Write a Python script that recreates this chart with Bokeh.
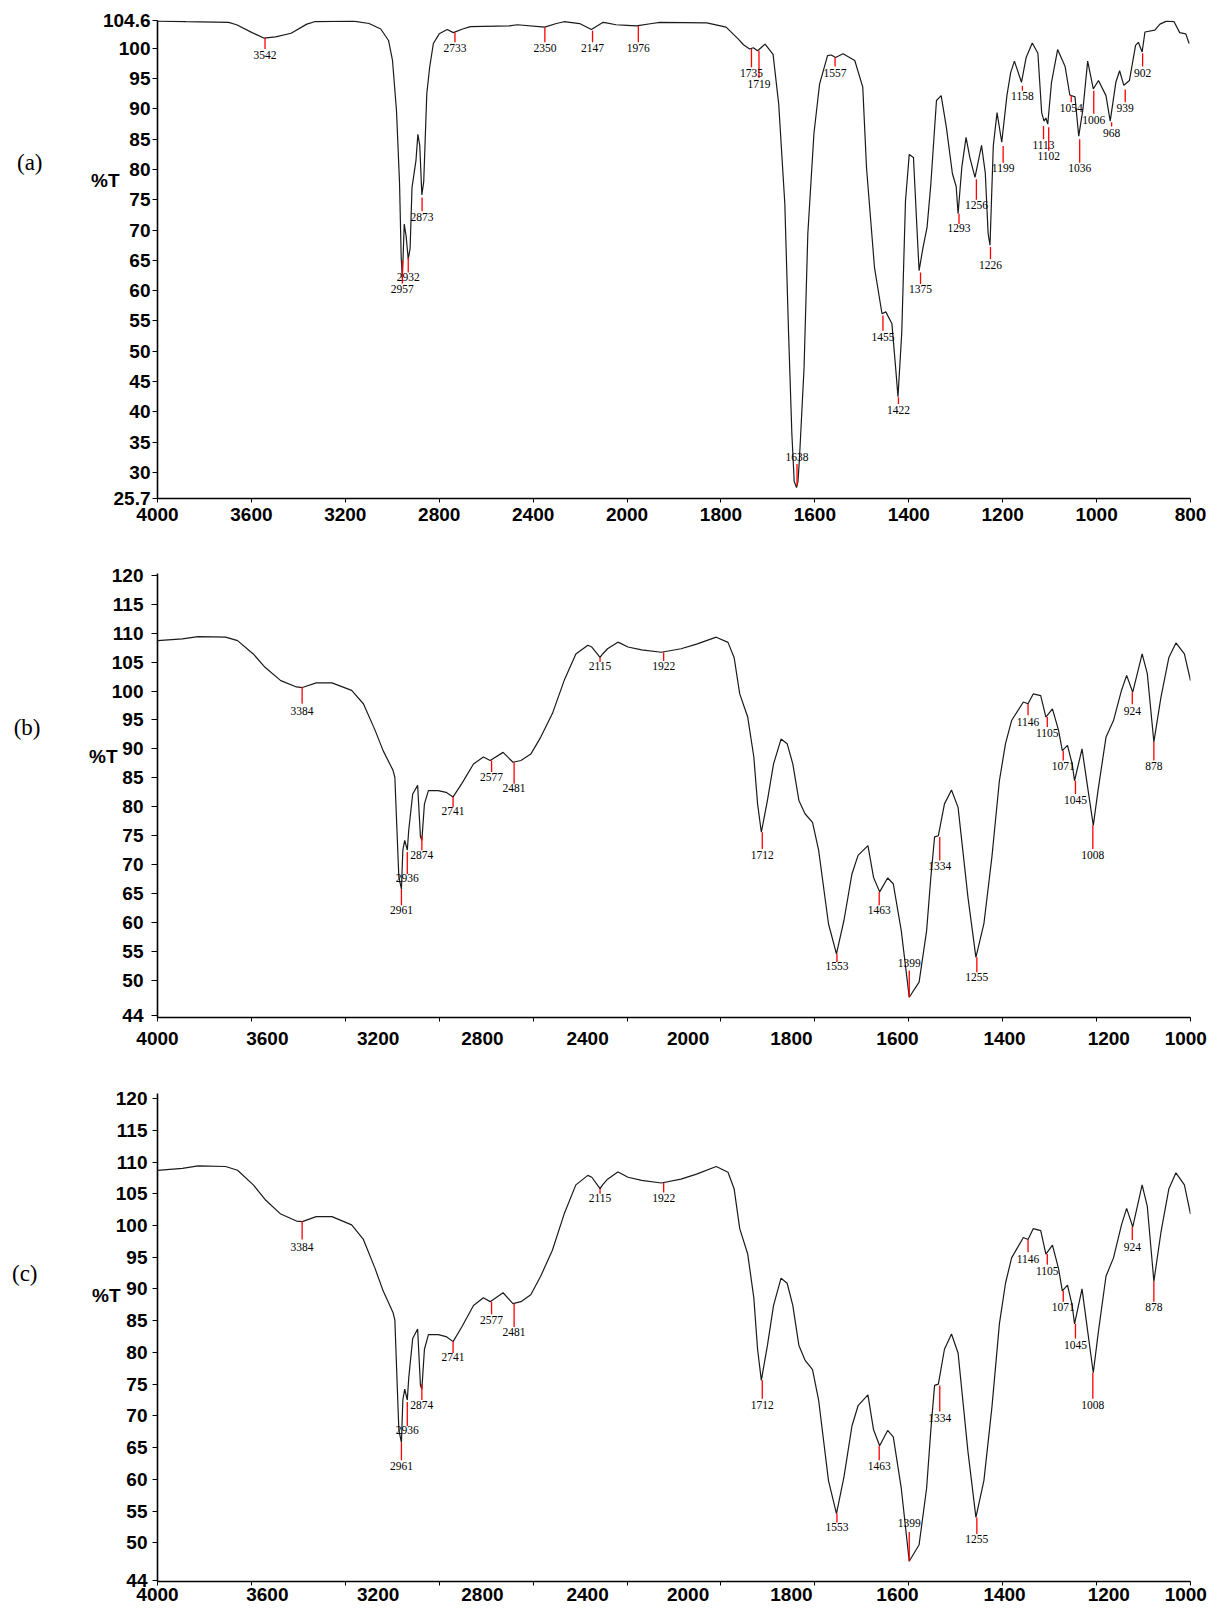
import numpy as np
from bokeh.plotting import figure
from bokeh.models import FixedTicker, LinearAxis, Range1d
from bokeh.layouts import column
from bokeh.embed import file_html
from bokeh.resources import INLINE
from bokeh.core.properties import value

# ---------------- data ----------------
# spectrum (a): wavenumber (cm-1) and %T
WN_A = [4000, 3879, 3697, 3663, 3597, 3547, 3497, 3431, 3364, 3331, 3165, 3099, 3049, 3016,
        2999, 2982, 2969, 2962, 2957, 2949, 2941, 2932, 2924, 2916, 2899, 2891, 2883, 2874,
        2866, 2853, 2841, 2825, 2800, 2766, 2740, 2700, 2667, 2501, 2468, 2351, 2301, 2268,
        2202, 2152, 2102, 2088, 2047, 2000, 1980, 1947, 1930, 1830, 1789, 1764, 1752, 1739,
        1731, 1722, 1706, 1689, 1677, 1664, 1656, 1649, 1644, 1639, 1636, 1633, 1623, 1615,
        1602, 1590, 1573, 1565, 1556, 1540, 1515, 1498, 1490, 1473, 1457, 1449, 1436, 1428,
        1423, 1415, 1407, 1399, 1390, 1382, 1378, 1370, 1361, 1353, 1341, 1331, 1320, 1307,
        1299, 1295, 1287, 1278, 1270, 1259, 1245, 1237, 1231, 1227, 1220, 1212, 1202, 1191,
        1183, 1175, 1160, 1150, 1137, 1125, 1117, 1112, 1108, 1104, 1096, 1083, 1067, 1057,
        1046, 1038, 1029, 1019, 1007, 996, 980, 971, 959, 951, 942, 930, 917, 911, 903, 897,
        876, 865, 851, 835, 823, 810, 803]
T_A = [104.5, 104.4, 104.3, 103.9, 102.6, 101.7, 101.9, 102.5, 104.0, 104.4, 104.5, 104.1, 103.2, 101.3,
       98.0, 89.7, 77.7, 65.5, 62.0, 71.0, 69.0, 65.2, 67.0, 77.0, 81.5, 85.8, 84.0, 75.8,
       78.0, 92.5, 96.8, 100.8, 102.4, 103.1, 102.6, 103.2, 103.6, 103.7, 103.9, 103.5, 104.1, 104.4,
       104.1, 103.1, 104.3, 104.2, 103.9, 103.8, 103.7, 104.1, 104.3, 104.2, 103.5, 101.6, 100.6, 99.9,
       100.1, 99.6, 100.7, 99.0, 90.8, 74.4, 53.0, 36.4, 28.5, 27.5, 28.5, 32.0, 47.3, 69.4,
       85.9, 94.1, 98.8, 98.9, 98.5, 99.1, 98.0, 93.6, 80.3, 63.8, 56.2, 56.5, 54.6, 47.3,
       42.5, 53.0, 74.8, 82.5, 82.0, 69.4, 63.3, 67.0, 70.5, 77.6, 91.4, 92.2, 87.0, 79.3,
       77.2, 72.7, 80.4, 85.3, 82.0, 78.7, 84.0, 79.4, 69.4, 67.5, 83.9, 89.4, 84.5, 92.2,
       96.0, 97.9, 94.4, 98.5, 100.9, 99.2, 89.4, 88.0, 88.5, 87.5, 94.4, 99.8, 97.0, 92.3,
       92.0, 85.5, 90.0, 97.9, 93.3, 94.7, 92.2, 88.0, 94.4, 96.3, 93.9, 94.7, 100.5, 101.0, 99.4, 102.7,
       103.0, 104.0, 104.5, 104.4, 102.6, 102.4, 100.8]

# peak annotations (a): wavenumber, red line top / bottom (%T), label centre (%T)
PEAK_A = [3542, 2957, 2932, 2873, 2733, 2350, 2147, 1976, 1735, 1719, 1638, 1557, 1455, 1422,
          1375, 1293, 1256, 1226, 1199, 1158, 1113, 1102, 1054, 1036, 1006, 968, 939, 902]
PEAK_A_TOP = [101.7, 65.0, 65.5, 75.4, 102.6, 103.5, 102.9, 103.7, 99.9, 99.6, 31.4, 98.5, 55.9, 42.4,
              63.0, 72.7, 78.4, 67.2, 83.9, 93.8, 87.2, 87.0, 92.2, 85.0, 93.0, 87.8, 93.2, 99.2]
PEAK_A_BOT = [99.9, 61.2, 63.0, 73.1, 101.0, 101.0, 101.0, 101.0, 96.9, 95.1, 27.8, 97.0, 53.4, 41.3,
              61.1, 71.0, 75.0, 65.2, 81.1, 93.0, 85.0, 83.1, 91.1, 81.1, 89.2, 87.1, 91.1, 97.0]
PEAK_A_LAB = [98.9, 60.2, 62.3, 72.1, 100.1, 100.1, 100.1, 100.1, 96.0, 94.2, 32.6, 96.0, 52.3, 40.3,
              60.2, 70.3, 74.2, 64.3, 80.3, 92.2, 84.1, 82.3, 90.2, 80.3, 88.2, 86.1, 90.2, 96.0]

# spectrum (b) = (c)
WN_B = [4000, 3894, 3827, 3710, 3659, 3592, 3542, 3475, 3408, 3383, 3324, 3257, 3173, 3123,
        3073, 3039, 2997, 2989, 2980, 2972, 2961, 2955, 2947, 2936, 2930, 2913, 2892, 2880,
        2874, 2863, 2846, 2804, 2771, 2741, 2704, 2654, 2612, 2583, 2528, 2486, 2452, 2410,
        2368, 2318, 2268, 2218, 2167, 2150, 2115, 2104, 2083, 2041, 2036, 1998, 1969, 1927,
        1885, 1852, 1810, 1785, 1772, 1760, 1743, 1730, 1722, 1714, 1701, 1688, 1672, 1659,
        1647, 1634, 1621, 1605, 1592, 1571, 1554, 1538, 1521, 1508, 1487, 1475, 1462, 1445,
        1433, 1416, 1399, 1378, 1362, 1353, 1345, 1337, 1324, 1309, 1295, 1274, 1257, 1240,
        1223, 1207, 1194, 1181, 1156, 1146, 1135, 1119, 1108, 1094, 1081, 1073, 1062, 1052,
        1047, 1031, 1018, 1007, 997, 980, 964, 947, 936, 923, 903, 892, 878, 863, 846, 831,
        813, 800]
T_B = [108.7, 109.0, 109.4, 109.3, 108.7, 106.4, 104.1, 101.8, 100.7, 100.6, 101.4, 101.4, 100.1, 97.8,
       93.2, 89.7, 86.3, 85.1, 75.9, 67.8, 65.8, 72.5, 74.2, 72.5, 75.9, 82.2, 83.7, 74.8,
       74.2, 80.5, 82.8, 82.8, 82.5, 81.7, 84.0, 87.4, 88.6, 88.0, 89.4, 87.7, 88.0, 89.1,
       92.0, 96.1, 101.8, 106.4, 107.9, 107.6, 105.8, 106.4, 107.3, 108.4, 108.4, 107.6, 107.1, 106.7,
       107.3, 108.1, 109.3, 108.4, 105.8, 99.5, 95.5, 88.6, 80.5, 75.6, 81.1, 87.4, 91.7, 90.9,
       87.4, 81.1, 78.8, 77.3, 72.5, 59.8, 54.6, 60.4, 68.4, 71.6, 73.3, 67.8, 65.3, 67.7,
       66.7, 58.6, 47.1, 49.7, 58.6, 67.8, 74.8, 75.0, 80.5, 82.9, 79.9, 64.4, 54.0, 59.8,
       71.3, 84.5, 90.9, 94.9, 98.1, 97.8, 99.5, 99.2, 95.5, 96.9, 93.2, 89.7, 90.6, 87.4,
       84.5, 90.0, 82.8, 76.8, 82.8, 92.0, 94.9, 100.1, 102.7, 99.8, 106.4, 103.0, 91.2, 98.9, 105.8, 108.3,
       106.4, 101.8]

PEAK_B = [3384, 2961, 2936, 2874, 2741, 2577, 2481, 2115, 1922, 1712, 1553, 1463, 1399, 1334,
          1255, 1146, 1105, 1071, 1045, 1008, 924, 878]
PEAK_B_TOP = [100.7, 65.8, 72.2, 75.0, 81.7, 88.0, 87.7, 105.8, 106.7, 75.6, 54.6, 65.3, 51.7, 74.8,
              54.0, 97.8, 95.5, 89.7, 84.5, 76.8, 99.8, 91.2]
PEAK_B_BOT = [97.8, 63.0, 68.4, 72.5, 79.9, 86.0, 84.0, 105.0, 105.2, 72.7, 53.2, 63.0, 47.1, 70.7,
              51.4, 95.8, 93.8, 88.0, 82.2, 72.7, 97.7, 88.0]
PEAK_B_LAB = [96.6, 62.1, 67.7, 71.7, 79.2, 85.1, 83.2, 104.3, 104.3, 71.7, 52.5, 62.1, 53.1, 69.7,
              50.6, 94.7, 92.8, 87.1, 81.2, 71.7, 96.6, 87.1]

# axes
X_TICK_WN = [4000, 3600, 3200, 2800, 2400, 2000, 1800, 1600, 1400, 1200, 1000, 800]
X_LABELS_BC = ["4000", "3600", "3200", "2800", "2400", "2000", "1800", "1600", "1400", "1200", "1000"]
Y_TICKS_A = [25.7, 30, 35, 40, 45, 50, 55, 60, 65, 70, 75, 80, 85, 90, 95, 100, 104.6]
Y_TICKS_BC = [44, 50, 55, 60, 65, 70, 75, 80, 85, 90, 95, 100, 105, 110, 115, 120]
Y_TITLE = "%T"
PANEL_TAGS = ["(a)", "(b)", "(c)"]

# ---------------- style / layout ----------------
# where the retyped x labels of (b) and (c) sit, in axis units (one unit per drawn tick)
XLAB_POS_BC = [0.0, 1.17, 2.35, 3.46, 4.58, 5.65, 6.75, 7.88, 9.02, 10.13, 10.95]
BOLD = "Liberation Sans"
SERIF = "Liberation Serif"


def to_u(w):
    """Instrument x scale: 400 cm-1 per division above 2000, 200 cm-1 below."""
    w = np.asarray(w, dtype=float)
    return np.where(w >= 2000, (4000.0 - w) / 400.0, 5.0 + (2000.0 - w) / 200.0)


def panel(left, fw, right, top, fh, bottom, ylo, yhi, ytk, ytk_out, ystand):
    p = figure(width=left + fw + right, height=top + fh + bottom,
               min_border_left=left, min_border_right=right,
               min_border_top=top, min_border_bottom=bottom,
               x_range=Range1d(0, 11), y_range=Range1d(ylo, yhi),
               output_backend="svg", toolbar_location=None)
    p.outline_line_color = None
    p.xgrid.visible = False
    p.ygrid.visible = False
    p.background_fill_color = "white"
    p.border_fill_color = "white"
    for ax in (p.xaxis[0], p.yaxis[0]):
        ax.axis_line_color = "black"
        ax.axis_line_width = 1.6
        ax.major_label_text_font = BOLD
        ax.major_label_text_font_style = "bold"
        ax.major_label_text_font_size = "19px"
        ax.major_label_text_color = "black"
        ax.major_tick_in = 0
        ax.minor_tick_in = 0
    p.yaxis.ticker = FixedTicker(ticks=ytk)
    p.yaxis.major_label_overrides = {t: (str(t)) for t in ytk}
    p.yaxis.major_tick_out = ytk_out
    p.yaxis.major_label_standoff = ystand
    p.yaxis.minor_tick_line_color = None
    return p


def draw(p, wn, t, pk, top, bot, lab):
    p.line(to_u(wn), t, line_color="#1a1a1a", line_width=1.2)
    pu = to_u(pk)
    p.segment(x0=pu, y0=top, x1=pu, y1=bot, line_color="#ff0000", line_width=1.3)
    p.text(x=pu, y=lab, text=[str(v) for v in pk], text_align="center",
           text_baseline="middle", text_font=value(SERIF), text_font_size="11.5px",
           text_color="black")


def text_axis(p, y, text, font, style, size, stand):
    """A bare left axis that carries a single text at height y (no line, no tick)."""
    ax = LinearAxis(ticker=FixedTicker(ticks=[y]), major_label_overrides={y: text},
                    axis_line_color=None, major_tick_line_color=None,
                    minor_tick_line_color=None, major_tick_out=0, major_tick_in=0,
                    minor_tick_out=0, minor_tick_in=0, major_label_standoff=stand,
                    major_label_text_font=font, major_label_text_font_style=style,
                    major_label_text_font_size=size, major_label_text_color="black")
    p.add_layout(ax, "left")


def side_labels(p, tag, tag_y, tag_stand, pt_y, pt_stand):
    text_axis(p, pt_y, Y_TITLE, BOLD, "bold", "19px", pt_stand)
    text_axis(p, tag_y, tag, SERIF, "normal", "23px", tag_stand)


# ---- (a)
pa = panel(157, 1046, 12, 20, 478, 42, 25.7, 104.6, Y_TICKS_A, 5, 2)
xa = [int(v) for v in to_u(X_TICK_WN)]
pa.xaxis.ticker = FixedTicker(ticks=xa)
pa.xaxis.major_label_overrides = {u: str(w) for u, w in zip(xa, X_TICK_WN)}
pa.xaxis.major_tick_out = 4
pa.xaxis.major_label_standoff = 5
pa.xaxis.minor_tick_line_color = None
draw(pa, WN_A, T_A, PEAK_A, PEAK_A_TOP, PEAK_A_BOT, PEAK_A_LAB)
side_labels(pa, PANEL_TAGS[0], 81.1, 45, 78.2, -20)


def bc_xaxis(p, stand):
    xt = [int(v) for v in to_u(X_TICK_WN)]
    p.xaxis.ticker = FixedTicker(ticks=XLAB_POS_BC, minor_ticks=xt)
    p.xaxis.major_label_overrides = {u: s for u, s in zip(XLAB_POS_BC, X_LABELS_BC)}
    p.xaxis.major_tick_line_color = None
    p.xaxis.major_tick_out = 4
    p.xaxis.minor_tick_out = 4
    p.xaxis.minor_tick_line_color = "black"
    p.xaxis.minor_tick_line_width = 1
    p.xaxis.major_label_standoff = stand


# ---- (b)
pb = panel(153, 1037, 25, 33, 444, 47, 43.6, 120.3, Y_TICKS_BC, 6, 8)
bc_xaxis(pb, 10)
draw(pb, WN_B, T_B, PEAK_B, PEAK_B_TOP, PEAK_B_BOT, PEAK_B_LAB)
side_labels(pb, PANEL_TAGS[1], 93.7, 45, 88.7, -9)

# ---- (c)
pc = panel(150, 1044, 21, 29, 488, 28, 43.9, 120.8, Y_TICKS_BC, 5, 5)
bc_xaxis(pc, 2)
draw(pc, WN_B, T_B, PEAK_B, PEAK_B_TOP, PEAK_B_BOT, PEAK_B_LAB)
side_labels(pc, PANEL_TAGS[2], 92.4, 51, 89.0, -8)

layout = column(pa, pb, pc, spacing=0)
open("out.html", "w").write(file_html(layout, INLINE))
